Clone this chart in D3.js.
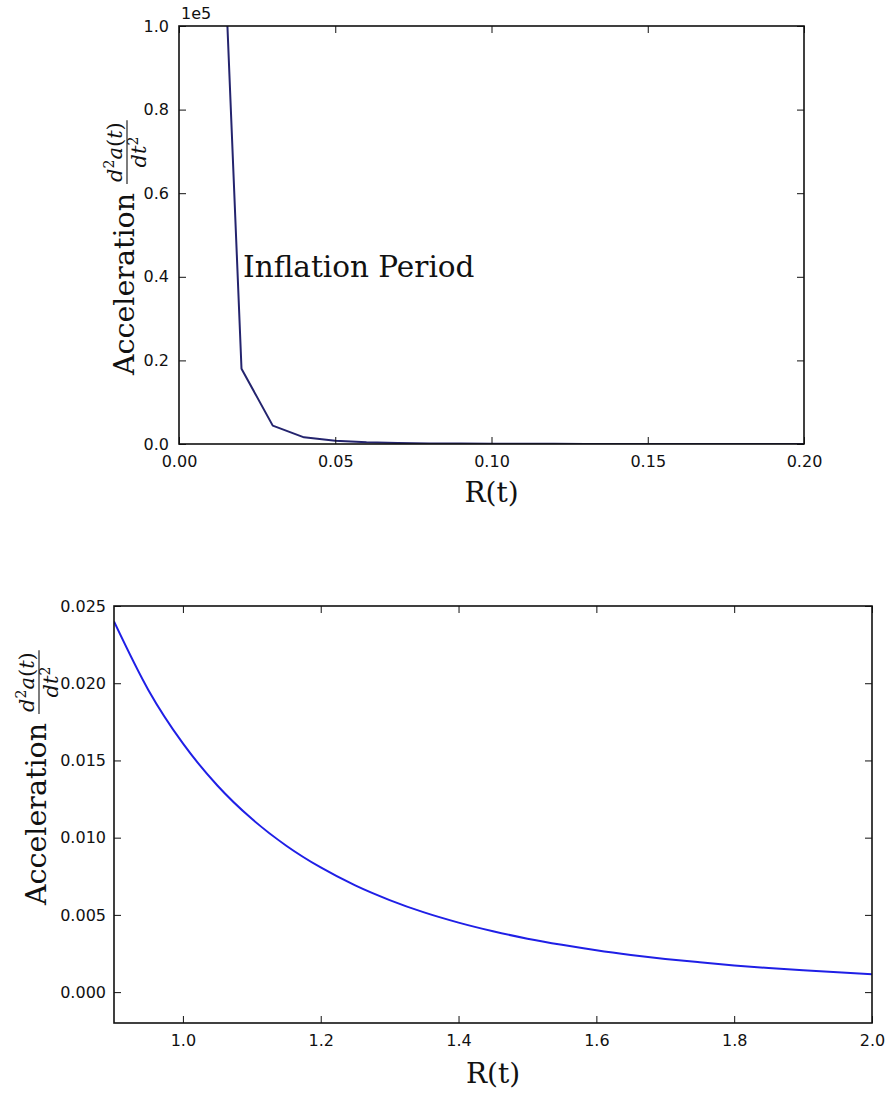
<!DOCTYPE html>
<html>
<head>
<meta charset="utf-8">
<script src="https://cdn.jsdelivr.net/npm/d3@7"></script>
<style>
  html, body { margin: 0; padding: 0; background: #fff; }
  svg { display: block; }
  .tick text { font-family: "DejaVu Sans", sans-serif; font-size: 16px; fill: #111; }
  .tick line { stroke: #111; stroke-width: 1; }
  .serif { font-family: "DejaVu Serif", serif; fill: #111; }
</style>
</head>
<body>
<script>
// Early-universe panel: acceleration against scale factor (values in units of 1e5)
const inflationR = [0.01, 0.02, 0.03, 0.04, 0.05, 0.06, 0.07, 0.08, 0.09, 0.10,
                    0.11, 0.12, 0.13, 0.14, 0.15, 0.16, 0.17, 0.18, 0.19, 0.20];
const inflationAccel = [200000, 18000, 4400, 1600, 750, 400, 230, 140, 90, 64,
                        45, 33, 25, 19, 15, 12, 9, 7.5, 6.5, 5.7];

// Late-universe panel
const lateR = [0.90, 0.95, 1.00, 1.05, 1.10, 1.15, 1.20, 1.25, 1.30, 1.35, 1.40, 1.45,
               1.50, 1.55, 1.60, 1.65, 1.70, 1.75, 1.80, 1.85, 1.90, 1.95, 2.00];
const lateAccel = [0.0240, 0.01955, 0.01610, 0.01338, 0.01122, 0.00948, 0.00807, 0.00691,
                   0.00596, 0.00516, 0.00450, 0.00394, 0.00346, 0.00306, 0.00271, 0.00241,
                   0.00215, 0.00193, 0.00173, 0.00156, 0.00141, 0.00128, 0.00116];

const inflationXTicks = [0, 0.05, 0.10, 0.15, 0.20];
const inflationYTicks = [0, 20000, 40000, 60000, 80000, 100000];
const lateXTicks = [1.0, 1.2, 1.4, 1.6, 1.8, 2.0];
const lateYTicks = [0, 0.005, 0.010, 0.015, 0.020, 0.025];

const W = 890, H = 1093;
const svg = d3.select("body").append("svg").attr("width", W).attr("height", H);

function panel(cfg) {
  const x = d3.scaleLinear().domain(cfg.xDomain).range([cfg.left, cfg.right]);
  const y = d3.scaleLinear().domain(cfg.yDomain).range([cfg.bottom, cfg.top]);
  const g = svg.append("g");
  const tick = 7;

  const clipId = "clip-" + cfg.id;
  svg.append("clipPath").attr("id", clipId).append("rect")
    .attr("x", cfg.left).attr("y", cfg.top)
    .attr("width", cfg.right - cfg.left).attr("height", cfg.bottom - cfg.top);

  // curve
  const line = d3.line().x(d => x(d[0])).y(d => y(d[1])).curve(cfg.curve);
  g.append("path")
    .datum(cfg.xs.map((v, i) => [v, cfg.ys[i]]))
    .attr("clip-path", `url(#${clipId})`)
    .attr("fill", "none").attr("stroke", cfg.color)
    .attr("stroke-width", cfg.lineWidth).attr("stroke-linejoin", "round")
    .attr("d", line);

  // axes with inward ticks, mirrored on top and right
  const axB = g.append("g").attr("transform", `translate(0,${cfg.bottom})`)
    .call(d3.axisBottom(x).tickValues(cfg.xTicks).tickFormat(d3.format(cfg.xFmt))
      .tickSizeInner(-tick).tickSizeOuter(0).tickPadding(12));
  const axL = g.append("g").attr("transform", `translate(${cfg.left},0)`)
    .call(d3.axisLeft(y).tickValues(cfg.yTicks).tickFormat(cfg.yFmt)
      .tickSizeInner(-tick).tickSizeOuter(0).tickPadding(cfg.yPad));
  const axT = g.append("g").attr("transform", `translate(0,${cfg.top})`)
    .call(d3.axisTop(x).tickValues(cfg.xTicks).tickFormat("")
      .tickSizeInner(-tick).tickSizeOuter(0));
  const axR = g.append("g").attr("transform", `translate(${cfg.right},0)`)
    .call(d3.axisRight(y).tickValues(cfg.yTicks).tickFormat("")
      .tickSizeInner(-tick).tickSizeOuter(0));
  [axB, axL, axT, axR].forEach(a => a.select(".domain").remove());

  // frame
  g.append("rect")
    .attr("x", cfg.left).attr("y", cfg.top)
    .attr("width", cfg.right - cfg.left).attr("height", cfg.bottom - cfg.top)
    .attr("fill", "none").attr("stroke", "#111").attr("stroke-width", 1.6);

  // x label
  g.append("text").attr("class", "serif")
    .attr("x", (cfg.left + cfg.right) / 2).attr("y", cfg.xLabelY)
    .attr("text-anchor", "middle").attr("font-size", 28)
    .text("R(t)");

  // y label: "Acceleration" followed by the fraction d²a(t)/dt²
  const yl = g.append("g").attr("transform", `translate(${cfg.yLabelX},${cfg.yLabelY}) rotate(-90)`);
  const word = yl.append("text").attr("class", "serif").attr("font-size", 28.5)
    .attr("x", 0).attr("y", 0).text("Acceleration");
  const wLen = word.node().getComputedTextLength();
  const fs = 21, sup = 14;
  const fx = wLen + 9;
  const barY = -7;

  const num = yl.append("text").attr("class", "serif").attr("font-size", fs).attr("y", barY - 5);
  num.append("tspan").attr("font-style", "italic").text("d");
  num.append("tspan").attr("font-size", sup).attr("dy", -8).text("2");
  num.append("tspan").attr("font-style", "italic").attr("dy", 8).text("a");
  num.append("tspan").text("(");
  num.append("tspan").attr("font-style", "italic").text("t");
  num.append("tspan").text(")");
  const den = yl.append("text").attr("class", "serif").attr("font-size", fs).attr("y", barY + 19);
  den.append("tspan").attr("font-style", "italic").text("dt");
  den.append("tspan").attr("font-size", sup).attr("dy", -8).text("2");

  const nLen = num.node().getComputedTextLength();
  const dLen = den.node().getComputedTextLength();
  const barLen = Math.max(nLen, dLen) + 4;
  num.attr("x", fx + (barLen - nLen) / 2);
  den.attr("x", fx + (barLen - dLen) / 2);
  yl.append("line").attr("x1", fx).attr("x2", fx + barLen)
    .attr("y1", barY).attr("y2", barY).attr("stroke", "#111").attr("stroke-width", 1.1);

  return { g, x, y };
}

const p1 = panel({
  id: "inflation", left: 179, right: 804, top: 26, bottom: 444,
  xDomain: [0, 0.2], yDomain: [0, 100000],
  xs: inflationR, ys: inflationAccel, curve: d3.curveLinear,
  color: "#24246e", lineWidth: 2,
  xTicks: inflationXTicks, yTicks: inflationYTicks,
  xFmt: ".2f", yFmt: d => d3.format(".1f")(d / 1e5), yPad: 10,
  xLabelY: 502, yLabelX: 134, yLabelY: 375
});
p1.g.append("text").attr("x", 181).attr("y", 19)
  .attr("font-family", "DejaVu Sans, sans-serif").attr("font-size", 16).attr("fill", "#111")
  .text("1e5");
p1.g.append("text").attr("class", "serif").attr("x", 243).attr("y", 277)
  .attr("font-size", 29.5).text("Inflation Period");

panel({
  id: "late", left: 114, right: 872, top: 606, bottom: 1023,
  xDomain: [0.9, 2.0], yDomain: [-0.002, 0.025],
  xs: lateR, ys: lateAccel, curve: d3.curveMonotoneX,
  color: "#1f1fe6", lineWidth: 2,
  xTicks: lateXTicks, yTicks: lateYTicks,
  xFmt: ".1f", yFmt: d3.format(".3f"), yPad: 8,
  xLabelY: 1083, yLabelX: 46, yLabelY: 905
});
</script>
</body>
</html>
